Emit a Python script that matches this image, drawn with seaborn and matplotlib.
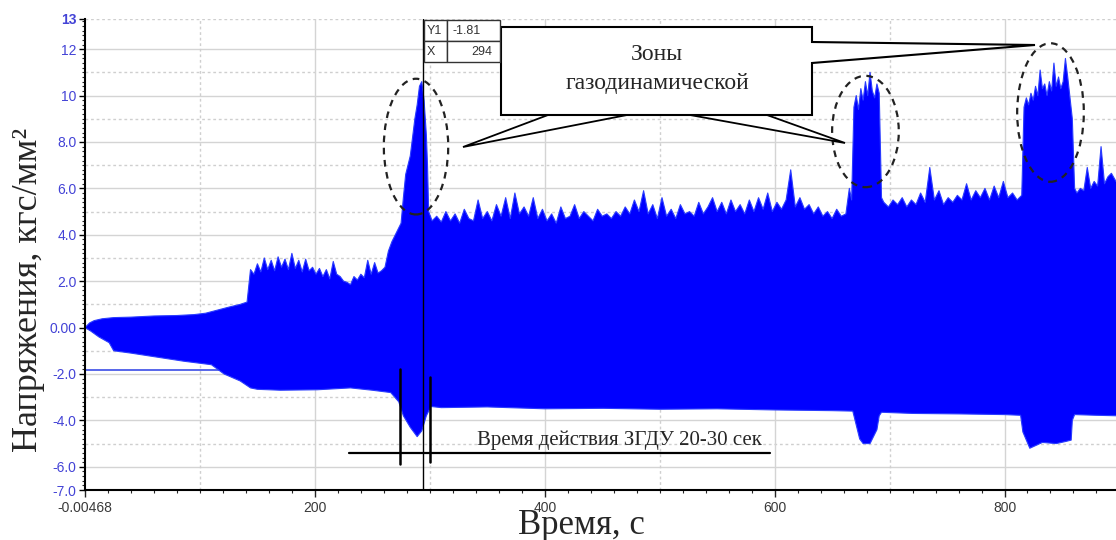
import matplotlib
matplotlib.use("Agg")
import matplotlib.pyplot as plt
from matplotlib.patches import Ellipse, Polygon, Rectangle
from matplotlib.ticker import MultipleLocator
import seaborn as sns

sns.set_style("white")
plt.rcParams["font.family"] = ["Liberation Sans", "DejaVu Sans"]

# ---------------------------------------------------
# Data (signal envelope)
# ---------------------------------------------------

upper_time = [
    0, 4, 8, 15, 25, 40, 60, 80, 95, 105, 115, 125, 135, 141,
    144, 147, 150, 153, 156, 159, 162, 165, 168, 171, 174, 177, 180, 183,
    186, 189, 192, 195, 198, 201, 204, 207, 210, 213, 216, 219, 222, 225,
    228, 231, 234, 237, 240, 243, 246, 249, 252, 255, 258, 261, 264, 267,
    270, 273,
    275, 277, 279, 281, 283, 285, 287, 289, 291, 293, 295, 297, 298, 299,
    302, 306, 310, 314, 318, 322, 326, 330, 334, 338,
    342, 346, 350, 354, 358, 362, 366, 370, 374, 378,
    382, 386, 390, 394, 398, 402, 406, 410, 414, 418,
    422, 426, 430, 434, 438, 442, 446, 450, 454, 458,
    462, 466, 470, 474, 478, 482, 486, 490, 494, 498,
    502, 506, 510, 514, 518, 522, 526, 530, 534, 538,
    542, 546, 550, 554, 558, 562, 566, 570, 574, 578,
    582, 586, 590, 594, 598, 602, 606, 610, 614, 618,
    622, 626, 630, 634, 638, 642, 646, 650, 654, 658, 662,
    665, 667, 669, 671, 673, 675, 677, 679, 681, 683, 685, 687, 689, 691, 693,
    695, 699, 703, 707, 711, 715, 719, 723, 727, 731,
    735, 739, 743, 747, 751, 755, 759, 763, 767, 771,
    775, 779, 783, 787, 791, 795, 799, 803, 807, 811, 815,
    817, 819, 821, 823, 825, 827, 829, 831, 833, 835, 837, 839, 841, 843,
    845, 847, 849, 851, 853, 855, 857, 859, 861,
    863, 866, 869, 872, 875, 878, 881, 884, 887, 890, 893, 897,
]
upper_value = [
    0.0, 0.2, 0.3, 0.38, 0.43, 0.45, 0.5, 0.52, 0.56, 0.62, 0.75, 0.88, 1.0, 1.1,
    2.5, 2.3, 2.75, 2.4, 3.0, 2.5, 2.9, 2.45, 3.05, 2.6, 2.95, 2.5, 3.2, 2.55,
    2.9, 2.4, 2.95, 2.45, 2.6, 2.3, 2.55, 2.2, 2.5, 2.1, 2.85, 2.3, 2.2, 2.0,
    1.95, 1.85, 2.2, 2.05, 2.3, 2.15, 2.9, 2.3, 2.8, 2.35, 2.45, 2.6, 3.3, 3.7,
    4.0, 4.3,
    4.5, 5.6, 6.6, 7.0, 7.4, 8.2, 9.0, 9.6, 10.4, 10.6, 9.8, 8.3, 7.0, 5.0,
    4.6, 4.8, 4.55, 5.0, 4.6, 4.9, 4.5, 5.1, 4.7, 4.6,
    5.5, 4.7, 5.0, 4.6, 5.3, 4.8, 5.6, 4.7, 5.8, 4.9,
    5.2, 4.8, 5.6, 4.7, 5.1, 4.6, 4.9, 4.5, 5.2, 4.7,
    4.8, 5.3, 4.7, 5.0, 4.8, 4.6, 5.1, 4.8, 4.9, 4.7,
    5.0, 4.8, 5.2, 4.9, 5.5, 5.0, 5.9, 4.9, 5.3, 4.7,
    5.6, 4.8, 5.1, 4.7, 5.3, 4.9, 5.0, 4.8, 5.4, 4.9,
    5.2, 5.6, 5.0, 5.4, 4.9, 5.5, 5.0, 5.3, 4.9, 5.5,
    5.0, 5.6, 5.1, 5.8, 5.0, 5.4, 5.1, 5.5, 6.8, 5.2,
    5.6, 5.1, 5.3, 4.9, 5.2, 4.8, 5.0, 4.7, 5.1, 4.8, 4.9,
    6.0, 5.5, 9.5, 10.0, 9.4, 10.3, 9.8, 10.6, 10.0, 11.0, 10.2, 9.9, 10.5, 10.1, 5.6,
    5.4, 5.2, 5.5, 5.3, 5.6, 5.2, 5.5, 5.3, 5.8, 5.4,
    6.9, 5.5, 5.9, 5.3, 5.6, 5.4, 5.7, 5.5, 6.2, 5.5,
    5.9, 5.6, 6.0, 5.5, 6.1, 5.6, 6.3, 5.6, 5.8, 5.5, 5.7,
    9.5, 9.9, 9.6, 10.1, 9.8, 10.4, 10.0, 11.1, 10.3, 10.5, 10.0, 10.6, 10.2, 11.4,
    10.4, 10.8, 10.3, 10.6, 11.6, 10.8, 9.9, 9.0, 6.0,
    5.8, 6.0, 5.9, 6.9, 6.0, 6.3, 6.1, 7.8, 6.2, 6.5, 6.65, 6.3,
]

lower_time = [
    0, 5, 12, 21, 25, 40, 57, 86, 110, 121, 135, 144, 150, 170, 202, 231,
    250, 266, 273, 277, 283, 289, 293, 297, 301, 310, 350, 400, 451, 500,
    550, 600, 650, 668, 670, 674, 677, 683, 689, 691, 693, 720, 760, 800,
    814, 816, 822, 833, 845, 854, 858, 859, 861, 880, 897,
]
lower_value = [
    0.0, -0.15, -0.4, -0.65, -1.0, -1.1, -1.23, -1.45, -1.6, -2.0, -2.3, -2.6,
    -2.66, -2.7, -2.68, -2.6, -2.7, -2.8, -3.2, -3.8, -4.3, -4.7, -4.45, -3.8,
    -3.4, -3.45, -3.42, -3.5, -3.48, -3.52, -3.5, -3.55, -3.58, -3.6, -4.0,
    -4.8, -5.0, -5.0, -4.4, -3.8, -3.65, -3.7, -3.72, -3.75, -3.78, -4.5,
    -5.2, -4.95, -5.0, -4.9, -4.85, -4.0, -3.75, -3.78, -3.8,
]

cursor_x = 294
cursor_y1 = -1.81

y_top = 13.3
y_ticks = [-7, -6, -4, -2, 0, 2, 4, 6, 8, 10, 12, y_top]
y_tick_labels = ["-7.0", "-6.0", "-4.0", "-2.0", "0.00", "2.0", "4.0",
                 "6.0", "8.0", "10", "12", "13"]
x_ticks = [0, 200, 400, 600, 800]
x_tick_labels = ["-0.00468", "200", "400", "600", "800"]

W, H = 1116, 540


def fig_xy(px, py):
    return px / W, 1 - py / H


# ---------------------------------------------------
# Figure
# ---------------------------------------------------

fig = plt.figure(figsize=(W / 100, H / 100), dpi=100)
ax = fig.add_axes([85 / W, 50 / H, 1 - 85 / W, 471 / H])

ax.set_xlim(0, 897)
ax.set_ylim(-7, y_top)

# grid
for y in range(-6, 13, 2):
    ax.axhline(y, color="#d4d4d4", lw=1.0, zorder=0)
for y in list(range(-5, 12, 2)) + [y_top]:
    ax.axhline(y, color="#cfcfcf", lw=1.0, ls=(0, (2, 2)), zorder=0)
for x in [200, 400, 600, 800]:
    ax.axvline(x, color="#d4d4d4", lw=1.0, zorder=0)
for x in [100, 300, 500, 700]:
    ax.axvline(x, color="#cfcfcf", lw=1.0, ls=(0, (2, 2)), zorder=0)

# cursor Y1 line behind the signal
ax.axhline(cursor_y1, color="#4a5ae8", lw=1.3, zorder=1)

# signal envelope
poly_x = upper_time + lower_time[::-1]
poly_y = upper_value + lower_value[::-1]
ax.fill(poly_x, poly_y, color="#0000ff", lw=0, zorder=2)
sns.lineplot(x=upper_time, y=upper_value, ax=ax, color="#2a3cff",
             lw=0.8, estimator=None, sort=False, zorder=2.5)
sns.lineplot(x=lower_time, y=lower_value, ax=ax, color="#2a3cff",
             lw=0.8, estimator=None, sort=False, zorder=2.5)

# cursor X line
ax.axvline(cursor_x, color="black", lw=1.0, zorder=4)

# ticks
ax.set_yticks(y_ticks)
ax.set_yticklabels(y_tick_labels)
ax.set_xticks(x_ticks)
ax.set_xticklabels(x_tick_labels)
ax.xaxis.set_minor_locator(MultipleLocator(20))
ax.yaxis.set_minor_locator(MultipleLocator(0.2))
ax.tick_params(axis="y", which="major", direction="out", length=4, width=1,
               colors="black", labelcolor="#4343d6", labelsize=10, pad=2)
ax.tick_params(axis="y", which="minor", direction="out", length=2, width=0.8)
ax.tick_params(axis="x", which="major", direction="out", length=5, width=1,
               labelcolor="#3a3a3a", labelsize=10, pad=3)
ax.tick_params(axis="x", which="minor", direction="out", length=2.5, width=0.8)
ax.yaxis.set_ticks_position("left")
ax.xaxis.set_ticks_position("bottom")
for lab in ax.get_yticklabels():
    if lab.get_text() == "13":
        lab.set_fontweight("bold")

for side in ["top", "right"]:
    ax.spines[side].set_visible(False)
for side in ["left", "bottom"]:
    ax.spines[side].set_color("black")
    ax.spines[side].set_linewidth(1.5)

ax.set_xlabel("")
ax.set_ylabel("")

# ---------------------------------------------------
# Annotations
# ---------------------------------------------------

for cx, cy, w, h in [(288, 7.8, 56, 5.85), (679, 8.45, 58, 4.8), (840, 9.27, 58, 5.97)]:
    ax.add_patch(Ellipse((cx, cy), w, h, fill=False, ec="#222222", lw=1.6,
                         ls=(0, (3, 2.5)), zorder=5))

# ZGDU time marks
ax.plot([230, 596], [-5.4, -5.4], color="black", lw=1.6, zorder=5)
ax.plot([274, 274], [-1.8, -5.9], color="black", lw=1.8, zorder=5)
ax.plot([300, 300], [-2.15, -5.8], color="black", lw=1.8, zorder=5)
ax.text(465, -4.85, "Время действия ЗГДУ 20-30 сек", ha="center", va="center",
        fontsize=15, family=["Liberation Serif", "DejaVu Serif"], zorder=6)

# callout pointers (under the box)
for pts in [[(548, 115), (463, 147), (627, 115)],
            [(690, 115), (845, 143), (767, 115)]]:
    fig.add_artist(Polygon([fig_xy(*p) for p in pts], closed=True, fc="white",
                           ec="black", lw=1.3, zorder=10))

box = [(501, 27), (812, 27), (812, 42), (1035, 45), (812, 63), (812, 115),
       (501, 115)]
fig.add_artist(Polygon([fig_xy(*p) for p in box], closed=True, fc="white",
                       ec="black", lw=1.5, zorder=11))
fig.text(*fig_xy(657, 55), "Зоны", ha="center", va="center", fontsize=17,
         family=["Liberation Serif", "DejaVu Serif"], zorder=12)
fig.text(*fig_xy(657, 84), "газодинамической", ha="center", va="center",
         fontsize=17, family=["Liberation Serif", "DejaVu Serif"], zorder=12)

# cursor readout table
for (x0, y0, x1, y1) in [(424, 20, 447, 41), (447, 20, 500, 41),
                         (424, 41, 447, 62), (447, 41, 500, 62)]:
    fx0, fy1 = fig_xy(x0, y1)
    fig.add_artist(Rectangle((fx0, fy1), (x1 - x0) / W, (y1 - y0) / H,
                             fc="white", ec="#333333", lw=1.0, zorder=12))
fig.text(*fig_xy(427, 31), "Y1", ha="left", va="center", fontsize=9,
         color="#333333", zorder=13)
fig.text(*fig_xy(453, 31), f"{cursor_y1:.2f}", ha="left", va="center",
         fontsize=9, color="#333333", zorder=13)
fig.text(*fig_xy(427, 52), "X", ha="left", va="center", fontsize=9,
         color="#333333", zorder=13)
fig.text(*fig_xy(492, 52), f"{cursor_x}", ha="right", va="center",
         fontsize=9, color="#333333", zorder=13)

# axis titles
fig.text(*fig_xy(29, 290), "Напряжения, кгс/мм²", rotation=90, ha="center",
         va="center", fontsize=26, family=["Liberation Serif", "DejaVu Serif"])
fig.text(*fig_xy(581, 534), "Время, с", ha="center", va="baseline",
         fontsize=25, family=["Liberation Serif", "DejaVu Serif"])

fig.savefig("out.png", dpi=100)
